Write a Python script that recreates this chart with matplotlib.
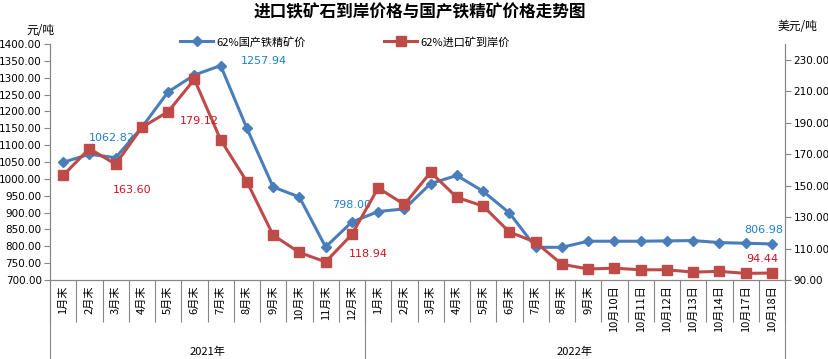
import matplotlib
matplotlib.use("Agg")
import matplotlib.pyplot as plt
import matplotlib.ticker as mticker
import numpy as np

plt.rcParams['font.family'] = ['Noto Sans CJK SC', 'DejaVu Sans']

# 类目
cats = ['1月末', '2月末', '3月末', '4月末', '5月末', '6月末', '7月末', '8月末',
        '9月末', '10月末', '11月末', '12月末',
        '1月末', '2月末', '3月末', '4月末', '5月末', '6月末', '7月末', '8月末', '9月末',
        '10月10日', '10月11日', '10月12日', '10月13日', '10月14日', '10月17日', '10月18日']
years = ['2021年', '2022年']
year_counts = [12, 16]

# 62%国产铁精矿价 (元/吨, 左轴)
domestic = [1049, 1073, 1062.82, 1153, 1257.94, 1308, 1336, 1150, 976, 946, 798.00, 872,
            903, 911, 986, 1010, 963, 899, 797, 797, 815, 815, 815, 816, 817, 811, 809, 806.98]
# 62%进口矿到岸价 (美元/吨, 右轴)
imported = [156.5, 173.5, 163.60, 187, 197, 217.5, 179.12, 152.5, 118.5, 107.5, 101.5, 118.94,
            148.5, 138, 158.5, 142.5, 137, 120.5, 114, 100, 97, 97.5, 96.5, 96.5, 95, 95.5, 94.2, 94.44]

# 数据标签: (序号, 像素偏移)
dom_labels = [(2, (-4, 20)), (4, (96, 31)), (10, (26, 42)), (27, (-8, 14))]
imp_labels = [(2, (17, -26)), (6, (-21, 19)), (11, (16, -20)), (27, (-10, 14))]

blue = '#4A7EBB'
red = '#BE4B48'
gray = '#868686'

fig = plt.figure(figsize=(8.29, 3.59), dpi=100)
ax = fig.add_axes([50/829, 1-280/359, 735/829, 236/359])
ax2 = ax.twinx()

x = np.arange(len(cats))
l1, = ax.plot(x, domestic, color=blue, lw=2.2, marker='D', ms=5.5, mec=blue, mfc=blue,
              label='62%国产铁精矿价', clip_on=False, zorder=3)
l2, = ax2.plot(x, imported, color=red, lw=2.2, marker='s', ms=7, mec=red, mfc=red,
               label='62%进口矿到岸价', clip_on=False, zorder=3)

ax.set_xlim(-0.5, len(cats)-0.5)
ax.set_ylim(700, 1400)
ax.set_yticks(np.arange(700, 1401, 50))
ax2.set_ylim(90, 240)
ax2.set_yticks(np.arange(90, 231, 20))
fmt = mticker.FormatStrFormatter('%.2f')
ax.yaxis.set_major_formatter(fmt)
ax2.yaxis.set_major_formatter(fmt)

for a in (ax, ax2):
    a.spines['top'].set_visible(False)
    for s in ('left', 'right', 'bottom'):
        a.spines[s].set_color(gray)
    a.tick_params(axis='y', colors=gray, labelcolor='black', labelsize=7.5, length=4, pad=2)
    for t in a.get_yticklabels():
        t.set_family('DejaVu Sans')

# 类目轴
ax.set_xticks(np.arange(-0.5, len(cats), 1))
ax.set_xticks(x, minor=True)
ax.set_xticklabels(cats, minor=True, rotation=90, fontsize=8)
ax.tick_params(axis='x', which='major', length=30, color=gray, labelbottom=False)
ax.tick_params(axis='x', which='minor', length=0, pad=4)

# 年份分组
edge = -0.5
for yr, n in zip(years, year_counts):
    ax.plot([edge, edge], [0, -0.34], transform=ax.get_xaxis_transform(), color=gray,
            lw=0.8, clip_on=False)
    ax.text(edge + n/2, -0.305, yr, transform=ax.get_xaxis_transform(), ha='center',
            va='center', fontsize=8)
    edge += n
ax.plot([edge, edge], [0, -0.34], transform=ax.get_xaxis_transform(), color=gray,
        lw=0.8, clip_on=False)

for i, off in dom_labels:
    ax.annotate(f'{domestic[i]:.2f}', (x[i], domestic[i]), xytext=off,
                textcoords='offset pixels', ha='center', va='center',
                color='#1F7FD0', fontsize=8, family='DejaVu Sans')
for i, off in imp_labels:
    ax2.annotate(f'{imported[i]:.2f}', (x[i], imported[i]), xytext=off,
                 textcoords='offset pixels', ha='center', va='center',
                 color='#D0101E', fontsize=8, family='DejaVu Sans')

fig.text(420/829, 1-12/359, '进口铁矿石到岸价格与国产铁精矿价格走势图', ha='center',
         va='center', fontsize=12, fontweight='bold')
fig.text(40/829, 1-31/359, '元/吨', ha='center', va='center', fontsize=8.5)
fig.text(797/829, 1-27/359, '美元/吨', ha='center', va='center', fontsize=8.5)

fig.legend(handles=[l1, l2], loc='center', bbox_to_anchor=(345/829, 1-42/359), ncol=2,
           frameon=False, fontsize=8, handlelength=3, columnspacing=7, handletextpad=0.3)

fig.savefig('out.png', dpi=100)
